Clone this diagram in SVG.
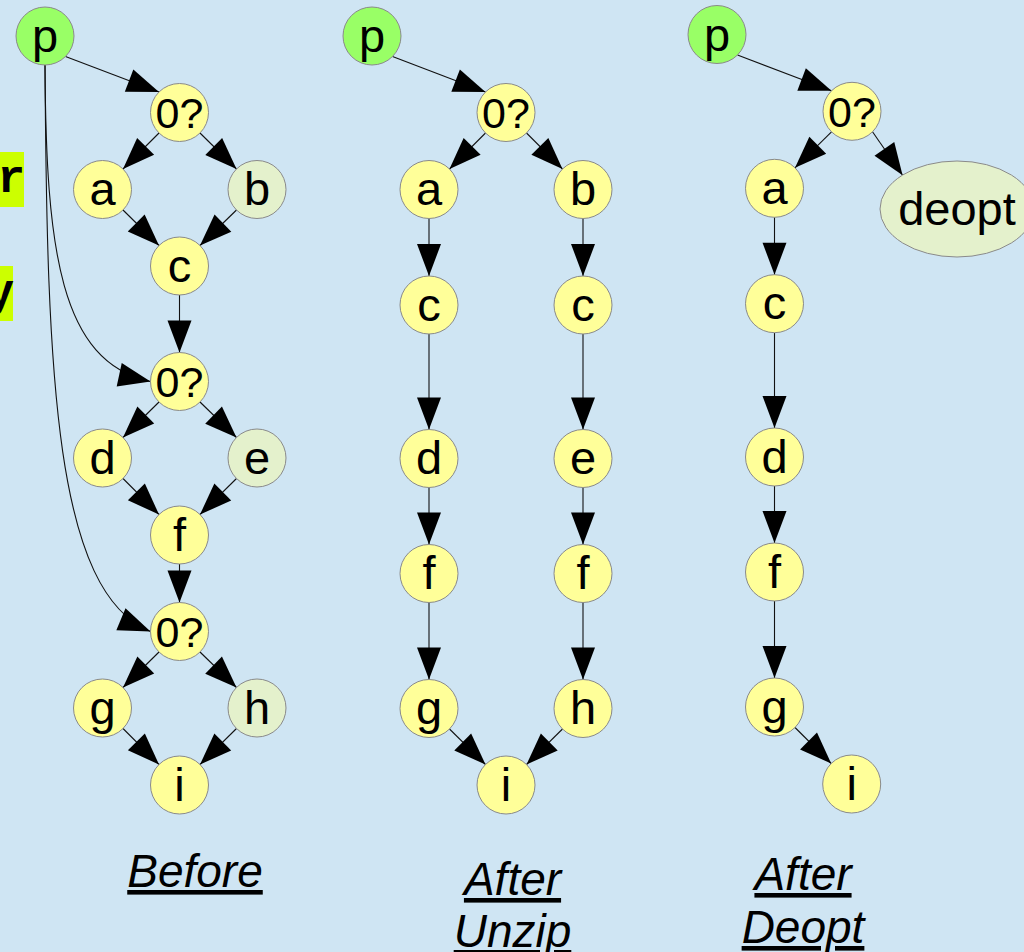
<svg xmlns="http://www.w3.org/2000/svg" width="1024" height="952" viewBox="0 0 1024 952">
<style>
.n{stroke:#8a8a8a;stroke-width:1}
.y{fill:#ffff99}
.g{fill:#99ff66}
.l{fill:#e4f1cc}
.t{font-family:"Liberation Sans",Arial,sans-serif;font-size:47px;fill:#000;text-anchor:middle}
.q{font-size:43px}
.c{fill:none;stroke:#111;stroke-width:1.1;marker-end:url(#ah)}
.ti{font-family:"Liberation Sans",Arial,sans-serif;font-size:46px;font-style:italic;text-decoration:underline;text-anchor:middle;fill:#000}
.m{font-family:"Liberation Mono","Courier New",monospace;font-weight:bold;font-size:46px;text-anchor:end;fill:#000}
.hl{fill:#ccff00}
</style>
<defs>
<marker id="ah" markerUnits="userSpaceOnUse" markerWidth="32" markerHeight="24" viewBox="0 0 32 24" refX="32" refY="12" orient="auto" overflow="visible">
<path d="M0,0 L32,12 L0,24 z" fill="#000"/>
</marker>
</defs>
<rect width="1024" height="952" fill="#cfe5f3"/>

<g id="left-text">
<rect class="hl" x="0" y="152" width="24" height="55"/>
<text class="m" x="25" y="192">r</text>
<rect class="hl" x="0" y="266" width="13" height="55"/>
<text class="m" x="14" y="306">y</text>
</g>

<g id="connectors">
<!-- Before -->
<path class="c" d="M65.5,56.5 L159,92"/>
<path class="c" d="M159,133 L123,169"/>
<path class="c" d="M200,133 L236.5,169"/>
<path class="c" d="M123,210 L159,245.5"/>
<path class="c" d="M236.5,210 L200,245.5"/>
<path class="c" d="M179.5,295 L179.5,352.5"/>
<path class="c" d="M45,65 C46,250 60,362 150.5,381.5"/>
<path class="c" d="M159,402 L123,437.5"/>
<path class="c" d="M200,402 L236.5,437.5"/>
<path class="c" d="M123,478.5 L159,514.5"/>
<path class="c" d="M236.5,478.5 L200,514.5"/>
<path class="c" d="M179.5,564 L179.5,602.5"/>
<path class="c" d="M45,65 C47,380 55,592 150.5,631.5"/>
<path class="c" d="M159,652 L123,687.5"/>
<path class="c" d="M200,652 L236.5,687.5"/>
<path class="c" d="M123,728.5 L159,764.5"/>
<path class="c" d="M236.5,728.5 L200,764.5"/>
<!-- After Unzip -->
<path class="c" d="M392.5,56.5 L485.5,92"/>
<path class="c" d="M485.5,133 L449.5,169"/>
<path class="c" d="M526.5,133 L562.5,169"/>
<path class="c" d="M429,218.5 L429,276"/>
<path class="c" d="M583,218.5 L583,276"/>
<path class="c" d="M429,334 L429,429.5"/>
<path class="c" d="M583,334 L583,429.5"/>
<path class="c" d="M429,487.5 L429,544.5"/>
<path class="c" d="M583,487.5 L583,544.5"/>
<path class="c" d="M429,602.5 L429,679.5"/>
<path class="c" d="M583,602.5 L583,679.5"/>
<path class="c" d="M449.5,729 L485.5,764.5"/>
<path class="c" d="M562.5,729 L526.5,764.5"/>
<!-- After Deopt -->
<path class="c" d="M737.5,55 L831.5,90.8"/>
<path class="c" d="M831.5,131.8 L795,167.8"/>
<path class="c" d="M872.5,131.8 L902.6,175.2"/>
<path class="c" d="M774.5,217.3 L774.5,274.7"/>
<path class="c" d="M774.5,332.7 L774.5,428"/>
<path class="c" d="M774.5,486 L774.5,543"/>
<path class="c" d="M774.5,601 L774.5,678"/>
<path class="c" d="M795,727.5 L831.2,763.5"/>
</g>

<!-- Before nodes -->
<g id="b-p"><circle class="n g" cx="45" cy="36" r="29"/><text class="t" x="45" y="52">p</text></g>
<g id="b-z1"><circle class="n y" cx="179.5" cy="112.5" r="29"/><text class="t q" x="179.5" y="128">0?</text></g>
<g id="b-a"><circle class="n y" cx="102.5" cy="189.5" r="29"/><text class="t" x="102.5" y="205">a</text></g>
<g id="b-b"><circle class="n l" cx="257" cy="189.5" r="29"/><text class="t" x="257" y="205">b</text></g>
<g id="b-c"><circle class="n y" cx="179.5" cy="266" r="29"/><text class="t" x="179.5" y="281.5">c</text></g>
<g id="b-z2"><circle class="n y" cx="179.5" cy="381.5" r="29"/><text class="t q" x="179.5" y="397">0?</text></g>
<g id="b-d"><circle class="n y" cx="102.5" cy="458" r="29"/><text class="t" x="102.5" y="473.5">d</text></g>
<g id="b-e"><circle class="n l" cx="257" cy="458" r="29"/><text class="t" x="257" y="473.5">e</text></g>
<g id="b-f"><circle class="n y" cx="179.5" cy="535" r="29"/><text class="t" x="179.5" y="550.5">f</text></g>
<g id="b-z3"><circle class="n y" cx="179.5" cy="631.5" r="29"/><text class="t q" x="179.5" y="647">0?</text></g>
<g id="b-g"><circle class="n y" cx="102.5" cy="708" r="29"/><text class="t" x="102.5" y="723.5">g</text></g>
<g id="b-h"><circle class="n l" cx="257" cy="708" r="29"/><text class="t" x="257" y="723.5">h</text></g>
<g id="b-i"><circle class="n y" cx="179.5" cy="785" r="29"/><text class="t" x="179.5" y="800.5">i</text></g>

<!-- After Unzip nodes -->
<g id="u-p"><circle class="n g" cx="372" cy="36" r="29"/><text class="t" x="372" y="52">p</text></g>
<g id="u-z"><circle class="n y" cx="506" cy="112.5" r="29"/><text class="t q" x="506" y="128">0?</text></g>
<g id="u-a"><circle class="n y" cx="429" cy="189.5" r="29"/><text class="t" x="429" y="205">a</text></g>
<g id="u-b"><circle class="n y" cx="583" cy="189.5" r="29"/><text class="t" x="583" y="205">b</text></g>
<g id="u-c1"><circle class="n y" cx="429" cy="305" r="29"/><text class="t" x="429" y="320.5">c</text></g>
<g id="u-c2"><circle class="n y" cx="583" cy="305" r="29"/><text class="t" x="583" y="320.5">c</text></g>
<g id="u-d"><circle class="n y" cx="429" cy="458.5" r="29"/><text class="t" x="429" y="474">d</text></g>
<g id="u-e"><circle class="n y" cx="583" cy="458.5" r="29"/><text class="t" x="583" y="474">e</text></g>
<g id="u-f1"><circle class="n y" cx="429" cy="573.5" r="29"/><text class="t" x="429" y="589">f</text></g>
<g id="u-f2"><circle class="n y" cx="583" cy="573.5" r="29"/><text class="t" x="583" y="589">f</text></g>
<g id="u-g"><circle class="n y" cx="429" cy="708.5" r="29"/><text class="t" x="429" y="724">g</text></g>
<g id="u-h"><circle class="n y" cx="583" cy="708.5" r="29"/><text class="t" x="583" y="724">h</text></g>
<g id="u-i"><circle class="n y" cx="506" cy="785" r="29"/><text class="t" x="506" y="800.5">i</text></g>

<!-- After Deopt nodes -->
<g id="d-p"><circle class="n g" cx="717" cy="34.5" r="29"/><text class="t" x="717" y="50.5">p</text></g>
<g id="d-z"><circle class="n y" cx="852" cy="111.3" r="29"/><text class="t q" x="852" y="126.8">0?</text></g>
<g id="d-a"><circle class="n y" cx="774.5" cy="188.3" r="29"/><text class="t" x="774.5" y="203.8">a</text></g>
<g id="d-deopt"><ellipse class="n l" cx="957" cy="209" rx="77" ry="48"/><text class="t" x="957" y="224.5">deopt</text></g>
<g id="d-c"><circle class="n y" cx="774.5" cy="303.7" r="29"/><text class="t" x="774.5" y="319.2">c</text></g>
<g id="d-d"><circle class="n y" cx="774.5" cy="457" r="29"/><text class="t" x="774.5" y="472.5">d</text></g>
<g id="d-f"><circle class="n y" cx="774.5" cy="572" r="29"/><text class="t" x="774.5" y="587.5">f</text></g>
<g id="d-g"><circle class="n y" cx="774.5" cy="707" r="29"/><text class="t" x="774.5" y="722.5">g</text></g>
<g id="d-i"><circle class="n y" cx="851.7" cy="784" r="29"/><text class="t" x="851.7" y="799.5">i</text></g>

<g id="titles">
<text class="ti" x="195" y="887">Before</text>
<text class="ti" x="512.5" y="895">After</text>
<text class="ti" x="512.5" y="947">Unzip</text>
<text class="ti" x="803" y="890">After</text>
<text class="ti" x="803" y="943">Deopt</text>
</g>
</svg>
